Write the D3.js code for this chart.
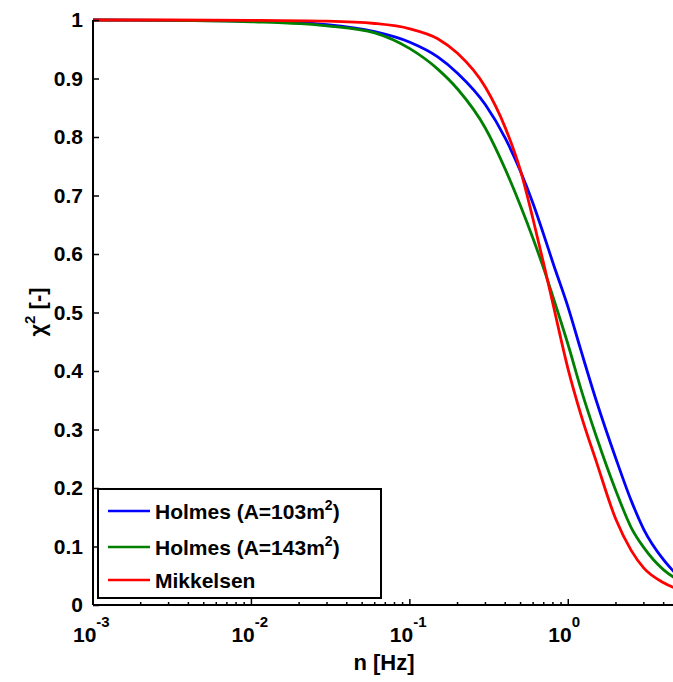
<!DOCTYPE html>
<html>
<head>
<meta charset="utf-8">
<script src="https://cdn.jsdelivr.net/npm/d3@7"></script>
<style>
  body { margin: 0; background: #fff; }
  text { font-family: "Liberation Sans", Arial, sans-serif; font-weight: bold; }
</style>
</head>
<body>
<script>
// chi^2 vs frequency, three admittance models

// data
var freq = [0.001, 0.003, 0.01, 0.03, 0.06, 0.1, 0.15, 0.2, 0.3, 0.4, 0.5, 0.6, 0.7, 0.8, 1.0, 1.2, 1.5, 2.0, 2.5, 3, 4, 5];
var holmes103 = [1.0, 0.9995, 0.998, 0.992, 0.980, 0.962, 0.937, 0.909, 0.855, 0.798, 0.741, 0.686, 0.633, 0.585, 0.508, 0.436, 0.350, 0.250, 0.178, 0.129, 0.077, 0.048];
var holmes143 = [1.0, 0.9995, 0.997, 0.990, 0.978, 0.951, 0.916, 0.882, 0.815, 0.745, 0.682, 0.626, 0.575, 0.527, 0.444, 0.370, 0.289, 0.195, 0.132, 0.098, 0.060, 0.042];
var mikkelsen = [1.0, 1.0, 0.9995, 0.998, 0.994, 0.985, 0.968, 0.943, 0.885, 0.816, 0.742, 0.659, 0.583, 0.515, 0.402, 0.326, 0.246, 0.146, 0.093, 0.063, 0.038, 0.026];
var seriesNames = ["Holmes (A=103m", "Holmes (A=143m", "Mikkelsen"];
var seriesSup = ["2", "2", ""];
var seriesColors = ["#0000ff", "#008000", "#ff0000"];
var yTicks = [0, 0.1, 0.2, 0.3, 0.4, 0.5, 0.6, 0.7, 0.8, 0.9, 1];
var xDecades = [-3, -2, -1, 0];

var width = 673, height = 682;

var xScale = d3.scaleLog().domain([0.001, 5]).range([93, 679]);
var yScale = d3.scaleLinear().domain([0, 1]).range([605, 20]);

var svg = d3.select("body").append("svg")
    .attr("width", width)
    .attr("height", height);

// curves
var allSeries = [holmes103, holmes143, mikkelsen];
var line = d3.line()
    .x(function(d, i) { return xScale(freq[i]); })
    .y(function(d) { return yScale(d); })
    .curve(d3.curveMonotoneX);

allSeries.forEach(function(vals, k) {
    svg.append("path")
        .datum(vals)
        .attr("d", line)
        .attr("fill", "none")
        .attr("stroke", seriesColors[k])
        .attr("stroke-width", 2.8);
});

// y axis, ticks pointing inward
var yAxis = d3.axisLeft(yScale)
    .tickValues(yTicks)
    .tickSize(-6)
    .tickPadding(10)
    .tickFormat(function(d) { return d === 0 || d === 1 ? d3.format("d")(d) : d3.format(".1f")(d); });

var gy = svg.append("g")
    .attr("transform", "translate(93,0)")
    .call(yAxis);
gy.select(".domain").attr("stroke", "#000").attr("stroke-width", 2).attr("d", "M0,20V605");
gy.selectAll(".tick line").attr("stroke-width", 1.5);
gy.selectAll(".tick text")
    .attr("font-size", 21)
    .attr("fill", "#000")
    .attr("font-family", "Liberation Sans, Arial, sans-serif")
    .attr("font-weight", "bold");

// x axis: major + minor ticks inward
var minor = [];
xDecades.forEach(function(e) {
    for (var m = 2; m <= 9; m++) {
        var v = m * Math.pow(10, e);
        if (v <= 5) minor.push(v);
    }
});

var gx = svg.append("g").attr("transform", "translate(0,605)");
gx.append("line")
    .attr("x1", 93).attr("x2", width)
    .attr("y1", 0).attr("y2", 0)
    .attr("stroke", "#000").attr("stroke-width", 2);
gx.selectAll(".minor")
    .data(minor)
    .enter().append("line")
    .attr("class", "minor")
    .attr("x1", function(d) { return xScale(d); })
    .attr("x2", function(d) { return xScale(d); })
    .attr("y1", 0).attr("y2", -3)
    .attr("stroke", "#000").attr("stroke-width", 1.5);
gx.selectAll(".major")
    .data(xDecades)
    .enter().append("line")
    .attr("class", "major")
    .attr("x1", function(d) { return xScale(Math.pow(10, d)); })
    .attr("x2", function(d) { return xScale(Math.pow(10, d)); })
    .attr("y1", 0).attr("y2", -6)
    .attr("stroke", "#000").attr("stroke-width", 1.5);

var xl = gx.selectAll(".xlab")
    .data(xDecades)
    .enter().append("text")
    .attr("class", "xlab")
    .attr("x", function(d) { return xScale(Math.pow(10, d)) - 20; })
    .attr("y", 37)
    .attr("font-size", 21);
xl.append("tspan").text("10");
xl.append("tspan")
    .attr("dy", -15)
    .attr("font-size", 15)
    .text(function(d) { return d; });

// axis titles
svg.append("text")
    .attr("x", 384)
    .attr("y", 670)
    .attr("text-anchor", "middle")
    .attr("font-size", 22)
    .text("n [Hz]");

var yl = svg.append("text")
    .attr("transform", "translate(45,312) rotate(-90)")
    .attr("text-anchor", "middle")
    .attr("font-size", 22);
yl.append("tspan").text("\u03c7");
yl.append("tspan").attr("dy", -10).attr("font-size", 15).text("2");
yl.append("tspan").attr("dy", 10).text(" [-]");

// legend
var legend = svg.append("g");
legend.append("rect")
    .attr("x", 98).attr("y", 489)
    .attr("width", 283).attr("height", 109)
    .attr("fill", "#fff")
    .attr("stroke", "#000").attr("stroke-width", 2);

var rowY = [511, 547, 580];
seriesNames.forEach(function(name, k) {
    legend.append("line")
        .attr("x1", 108).attr("x2", 150)
        .attr("y1", rowY[k]).attr("y2", rowY[k])
        .attr("stroke", seriesColors[k]).attr("stroke-width", 2.6);
    var t = legend.append("text")
        .attr("x", 155)
        .attr("y", rowY[k] + 8)
        .attr("font-size", 21);
    t.append("tspan").text(name);
    if (seriesSup[k]) {
        t.append("tspan").attr("dy", -9).attr("font-size", 14).text(seriesSup[k]);
        t.append("tspan").attr("dy", 9).text(")");
    }
});
</script>
</body>
</html>
